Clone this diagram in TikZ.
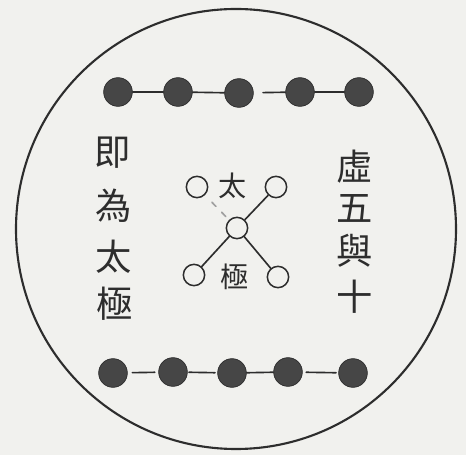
\documentclass[tikz,border=0pt]{standalone}
\usepackage{fontspec}
\newfontfamily\cjk{Noto Sans CJK TC}
\begin{document}
\begin{tikzpicture}[x=0.03cm, y=-0.03cm, line join=round, line cap=round,
    yang/.style={circle, draw=cInk, fill=cInk!88, line width=0.6pt, minimum size=0.86cm, inner sep=0pt},
    yin/.style={circle, draw=cInk, line width=1.3pt, minimum size=0.64cm, inner sep=0pt},
    link/.style={draw=cInk, line width=1.4pt},
    bigchar/.style={font=\cjk\fontsize{31}{31}\selectfont, text=cInk, inner sep=0pt},
    midchar/.style={font=\cjk\fontsize{24}{24}\selectfont, text=cInk, inner sep=0pt}]
          \definecolor{cInk}{RGB}{45, 45, 45}
          \definecolor{cPaper}{RGB}{241, 241, 238}

          \fill[cPaper] (0,0) rectangle (466,455);

          % outer circle
          \draw[cInk, line width=1.8pt] (236,229) circle[radius=6.6cm];

          % top row of five
          \node[yang] (t1) at (118,92) {};
          \node[yang] (t2) at (178,92) {};
          \node[yang] (t3) at (239,93) {};
          \node[yang] (t4) at (300,92) {};
          \node[yang] (t5) at (359,92) {};
          \draw[link] (t1) -- (t2);
          \draw[link] (t2) -- (t3);
          \draw[link, shorten <=8pt] (t3) -- (t4);
          \draw[link] (t4) -- (t5);

          % bottom row of five
          \node[yang] (b1) at (113,373) {};
          \node[yang] (b2) at (173,372) {};
          \node[yang] (b3) at (232,373) {};
          \node[yang] (b4) at (288,372) {};
          \node[yang] (b5) at (353,373) {};
          \draw[link, shorten <=4pt, shorten >=3pt] (b1) -- (b2);
          \draw[link, shorten <=1pt, shorten >=2pt] (b2) -- (b3);
          \draw[link] (b3) -- (b4);
          \draw[link, shorten <=3pt, shorten >=2pt] (b4) -- (b5);

          % centre figure
          \node[yin] (c) at (237,228) {};
          \node[yin] (nw) at (197,187) {};
          \node[yin] (ne) at (276,187) {};
          \node[yin] (sw) at (194,275) {};
          \node[yin] (se) at (278,277) {};
          \draw[link] (c) -- (ne);
          \draw[link] (c) -- (sw);
          \draw[link] (c) -- (se);
          \draw[link, cInk!45, dash pattern=on 5pt off 7pt, shorten <=4pt, shorten >=6pt] (c) -- (nw);
          \node[midchar] (tai) at (233,186) {太};
          \node[midchar] (ji) at (235,277) {極};

          % left column
          \node[bigchar] (l1) at (113,153) {即};
          \node[bigchar] (l2) at (114,206) {為};
          \node[bigchar] (l3) at (114,257) {太};
          \node[bigchar] (l4) at (115,304) {極};

          % right column
          \node[bigchar] (r1) at (355,167) {虛};
          \node[bigchar] (r2) at (355,208) {五};
          \node[bigchar] (r3) at (355,251) {與};
          \node[bigchar] (r4) at (355,297) {十};
        \end{tikzpicture}
\end{document}
